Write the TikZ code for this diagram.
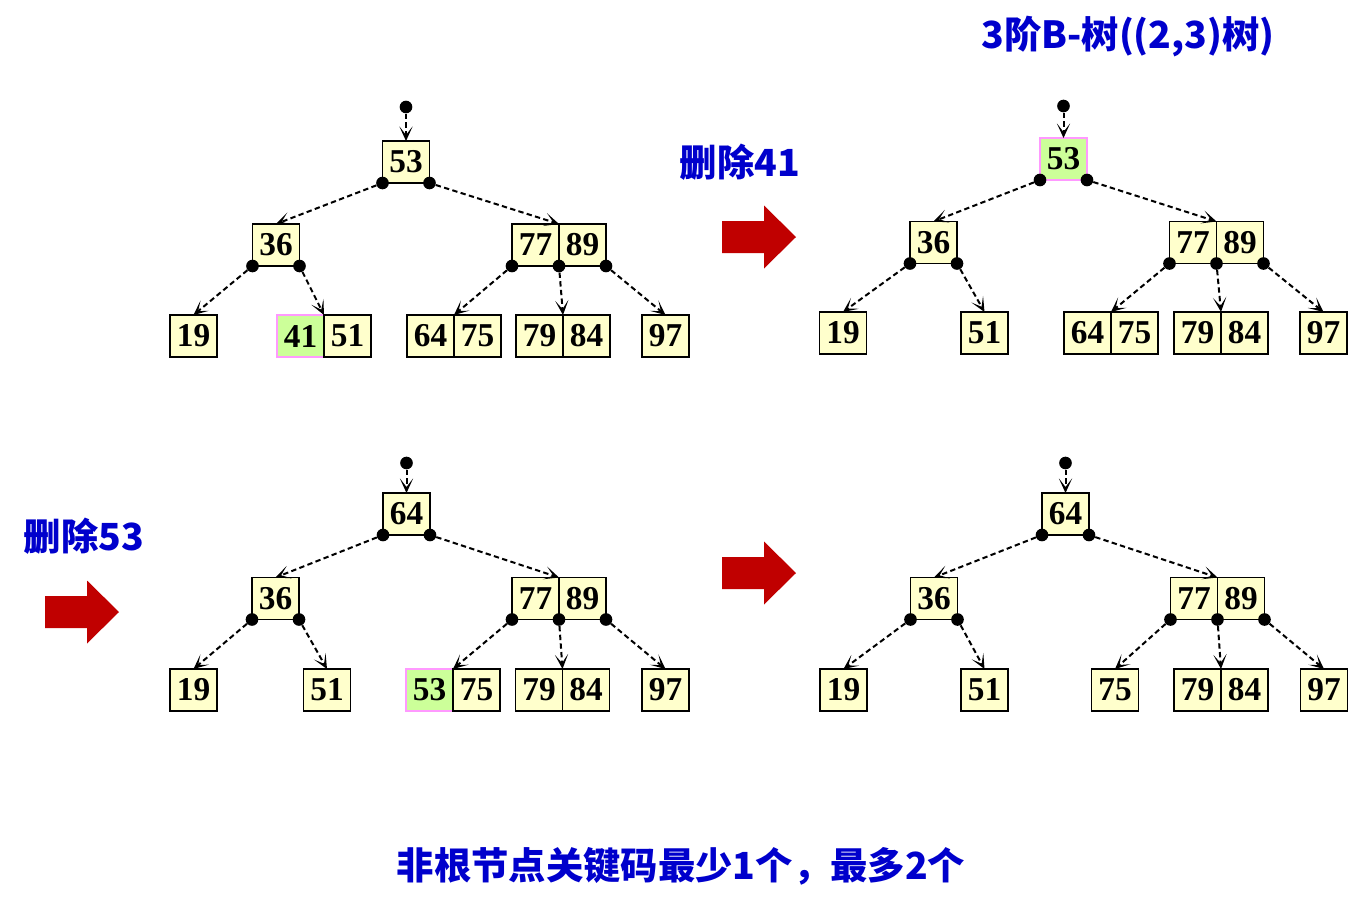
\documentclass[tikz,border=0pt]{standalone}
\usepackage{fontspec}
\setmainfont{Liberation Serif}
\newfontfamily\cjk{Noto Sans CJK SC}
\usetikzlibrary{arrows.meta,positioning}

\definecolor{keyfill}{HTML}{FFFFCC}
\definecolor{hitfill}{HTML}{CCFF99}
\definecolor{hitline}{HTML}{FF99FF}
\definecolor{noteblue}{HTML}{0000CC}
\definecolor{movered}{HTML}{C00000}

\tikzset{
  key/.style  = {draw, rectangle, fill=keyfill, line width=0.9pt, outer sep=0pt, inner sep=0pt,
                 minimum width=35.25pt, minimum height=31.5pt, font=\fontsize{25}{25}\selectfont\bfseries},
  hit/.style  = {key, fill=hitfill, draw=hitline},
  dot/.style  = {circle, fill=black, inner sep=0pt, minimum size=9.5pt},
  ptr/.style  = {-{Stealth[length=11pt,width=10pt,inset=6.5pt]}, line width=1.5pt, dash pattern=on 4pt off 2.5pt},
  note/.style = {text=noteblue, font=\cjk\fontsize{28}{28}\selectfont\bfseries}
}

\begin{document}
\begin{tikzpicture}[x=0.75pt, y=-0.75pt]
\useasboundingbox (0,0) rectangle (1361,911);

% labels
\node[note] (title) at (1128,37) {3阶B-树((2,3)树)};
\node[note] (del41) at (740,162) {删除41};
\node[note] (del53) at (84,536) {删除53};
\node[note] (rule) at (681,866) {非根节点关键码最少1个，最多2个};

% the first tree
\begin{scope}[every node/.style={key}]
\node (a53) at (406,162) {53};
\node (a36) at (276,245) {36};
\node (a77) at (535.5,245) {77};
\node [right=0pt of a77] (a89) {89};
\node (a19) at (193.5,336) {19};
\node [hit] (a41) at (300.5,336) {41};
\node [right=0pt of a41] (a51) {51};
\node (a64) at (430.5,336) {64};
\node [right=0pt of a64] (a75) {75};
\node (a79) at (539.5,336) {79};
\node [right=0pt of a79] (a84) {84};
\node (a97) at (665.5,336) {97};
\end{scope}

% after deleting 41
\begin{scope}[every node/.style={key}]
\node [hit] (b53) at (1063.5,159) {53};
\node (b36) at (933.5,242.5) {36};
\node (b77) at (1193,242.5) {77};
\node [right=0pt of b77] (b89) {89};
\node (b19) at (843,333) {19};
\node (b51) at (984.5,333) {51};
\node (b64) at (1087.5,333) {64};
\node [right=0pt of b64] (b75) {75};
\node (b79) at (1197.5,333) {79};
\node [right=0pt of b79] (b84) {84};
\node (b97) at (1323.5,333) {97};
\end{scope}

% before deleting 53
\begin{scope}[every node/.style={key}]
\node (c64) at (406.5,514) {64};
\node (c36) at (275.5,598.5) {36};
\node (c77) at (535.5,598.5) {77};
\node [right=0pt of c77] (c89) {89};
\node (c19) at (193.5,690) {19};
\node (c51) at (327,690) {51};
\node [hit] (c53) at (429.5,690) {53};
\node [right=0pt of c53] (c75) {75};
\node (c79) at (539,690) {79};
\node [right=0pt of c79] (c84) {84};
\node (c97) at (665.5,690) {97};
\end{scope}

% after deleting 53
\begin{scope}[every node/.style={key}]
\node (d64) at (1065.5,514) {64};
\node (d36) at (934,598.5) {36};
\node (d77) at (1194,598.5) {77};
\node [right=0pt of d77] (d89) {89};
\node (d19) at (843.5,690) {19};
\node (d51) at (984.5,690) {51};
\node (d75) at (1115,690) {75};
\node (d79) at (1197.5,690) {79};
\node [right=0pt of d79] (d84) {84};
\node (d97) at (1324,690) {97};
\end{scope}

% root pointers
\foreach \r/\k/\y in {ra/a53/107, rb/b53/106, rc/c64/463, rd/d64/463} {
  \node[dot] (\r) at (\k |- 0,\y) {};
  \draw[ptr] (\r) -- (\k.north);
}

% child pointers
\foreach \s/\t [count=\i] in {
  a53.south west/a36.north, a53.south east/a77.north east,
  a36.south west/a19.north, a36.south east/a41.north east,
  a77.south west/a64.north east, a77.south east/a79.north east, a89.south east/a97.north,
  b53.south west/b36.north, b53.south east/b77.north east,
  b36.south west/b19.north, b36.south east/b51.north,
  b77.south west/b64.north east, b77.south east/b79.north east, b89.south east/b97.north,
  c64.south west/c36.north, c64.south east/c77.north east,
  c36.south west/c19.north, c36.south east/c51.north,
  c77.south west/c53.north east, c77.south east/c79.north east, c89.south east/c97.north,
  d64.south west/d36.north, d64.south east/d77.north east,
  d36.south west/d19.north, d36.south east/d51.north,
  d77.south west/d75.north, d77.south east/d79.north east, d89.south east/d97.north}
{
  \node[dot] (p\i) at (\s) {};
  \draw[ptr] (p\i) -- (\t);
}

% big arrows
\foreach \x/\y in {722/237, 722/573, 45/612}
  \fill[movered] (\x,\y-16) -- ++(42,0) -- ++(0,-15.5) -- ++(32,31.5)
    -- ++(-32,31.5) -- ++(0,-15.5) -- ++(-42,0) -- cycle;

\end{tikzpicture}
\end{document}
